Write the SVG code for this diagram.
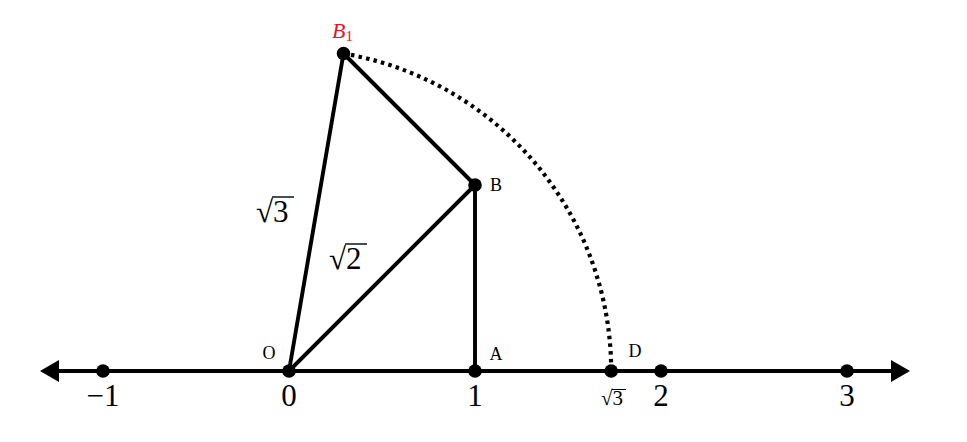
<svg xmlns="http://www.w3.org/2000/svg" width="967" height="442" viewBox="0 0 967 442">
<style>
.ln{stroke:#000;stroke-width:3.9;fill:none;stroke-linecap:round}
.dot{fill:#000}
.t{font-family:"Liberation Serif",serif;fill:#000}
.big{font-size:31px}
.sm{font-size:18px}
.ov{stroke:#000;stroke-width:1.4}
</style>
<rect width="967" height="442" fill="#fff"/>
<g id="connectors">
<line class="ln" x1="58" y1="371" x2="893" y2="371" style="stroke-linecap:butt"/>
<polygon points="40,371 59,360 59,382" fill="#000"/>
<polygon points="910,371 891,360 891,382" fill="#000"/>
<line class="ln" x1="289" y1="371" x2="343.5" y2="53.5"/>
<line class="ln" x1="343.5" y1="53.5" x2="475" y2="185"/>
<line class="ln" x1="289" y1="371" x2="475" y2="185"/>
<line class="ln" x1="475" y1="185" x2="475" y2="371"/>
<path d="M343.5 53.5 A322.16 322.16 0 0 1 611.2 371" fill="none" stroke="#000" stroke-width="4.2" stroke-dasharray="3.5 4.2"/>
</g>
<g id="n-1"><circle class="dot" cx="103" cy="371" r="6.8"/><text class="t big" x="103" y="406" text-anchor="middle">−1</text></g>
<g id="O"><circle class="dot" cx="289" cy="371" r="6.8"/><text class="t big" x="289" y="406" text-anchor="middle">0</text><text class="t sm" x="269" y="359" text-anchor="middle">O</text></g>
<g id="A"><circle class="dot" cx="475" cy="371" r="6.8"/><text class="t big" x="475" y="406" text-anchor="middle">1</text><text class="t sm" x="496" y="360" text-anchor="middle">A</text></g>
<g id="D"><circle class="dot" cx="611.2" cy="371" r="6.8"/><text class="t" style="font-size:21px" x="601" y="405">√3</text><line class="ov" x1="612" y1="389.5" x2="626" y2="389.5" style="stroke-width:1"/><text class="t sm" x="635" y="357" text-anchor="middle">D</text></g>
<g id="n2"><circle class="dot" cx="661" cy="371" r="6.8"/><text class="t big" x="661" y="406" text-anchor="middle">2</text></g>
<g id="n3"><circle class="dot" cx="847" cy="371" r="6.8"/><text class="t big" x="847" y="406" text-anchor="middle">3</text></g>
<g id="B"><circle class="dot" cx="475" cy="185" r="6.8"/><text class="t sm" x="496" y="191" text-anchor="middle">B</text></g>
<g id="B1"><circle class="dot" cx="343.5" cy="53.5" r="6.8"/><text class="t" x="332" y="38" style="fill:#e8112d;font-size:22px;font-style:italic">B<tspan style="font-style:normal;font-size:15px" dy="3">1</tspan></text></g>
<g id="lbl-sqrt3"><text class="t big" x="256" y="222">√3</text><line class="ov" x1="272" y1="197" x2="294" y2="197"/></g>
<g id="lbl-sqrt2"><text class="t big" x="329" y="269">√2</text><line class="ov" x1="345" y1="244" x2="367" y2="244"/></g>
</svg>
